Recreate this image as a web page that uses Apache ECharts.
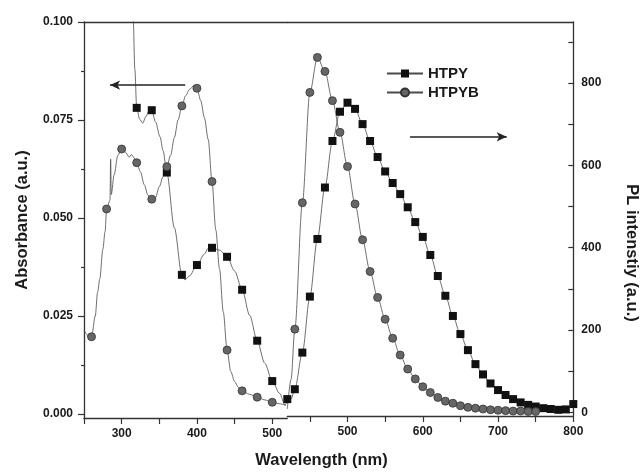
<!DOCTYPE html>
<html>
<head>
<meta charset="utf-8">
<script src="https://cdn.jsdelivr.net/npm/echarts@6/dist/echarts.min.js"></script>
<style>
html, body { margin: 0; padding: 0; background: #fff; }
#chart { width: 643px; height: 472px; }
</style>
</head>
<body>
<div id="chart"></div>
<script>
// absorbance (left axis), markers every 20 nm + extra points of the trace
const htpyAbsMarks = [[320, 0.0781], [340, 0.0775], [360, 0.0616], [380, 0.0355], [400, 0.0380], [420, 0.0424], [440, 0.0401], [460, 0.0317], [480, 0.0187], [500, 0.0084], [520, 0.0038]]
const htpyAbsTrace = [[313, 0.125], [315.5, 0.100], [317.5, 0.088], [324, 0.0752], [328, 0.0742], [332, 0.0758], [336, 0.0772], [345, 0.0745], [351, 0.0707], [355, 0.0672], [370, 0.0475], [384, 0.0342], [390, 0.0352], [410, 0.0408], [415, 0.0423], [430, 0.0418], [450, 0.0365], [470, 0.0252], [490, 0.0130], [510, 0.0052], [517, 0.0022]]
const htpybAbsMarks = [[260, 0.0197], [280, 0.0523], [300, 0.0676], [320, 0.0641], [340, 0.0548], [360, 0.0631], [380, 0.0786], [400, 0.0831], [420, 0.0593], [440, 0.0163], [460, 0.0059], [480, 0.0043], [500, 0.0030]]
const htpybAbsTrace = [[250, 0.0214], [253, 0.0205], [256, 0.0196], [265, 0.0250], [268, 0.0310], [271, 0.0345], [275, 0.0420], [278, 0.0465], [284.5, 0.0545], [285.4, 0.0650], [286.2, 0.0560], [290, 0.0610], [295, 0.0660], [305, 0.0668], [310, 0.0655], [313, 0.0662], [316, 0.0655], [325, 0.0618], [330, 0.0585], [335, 0.0558], [345, 0.0552], [350, 0.0580], [355, 0.0605], [365, 0.0660], [370, 0.0705], [375, 0.0750], [385, 0.0812], [390, 0.0828], [396, 0.0838], [405, 0.0800], [410, 0.0755], [415, 0.0700], [425, 0.0470], [430, 0.0370], [435, 0.0260], [445, 0.0108], [450, 0.0083], [455, 0.0068], [470, 0.0050], [490, 0.0036], [510, 0.0026], [518, 0.0022]]

// PL (right axis), markers every 10 nm
const plWave = [430, 440, 450, 460, 470, 480, 490, 500, 510, 520, 530, 540, 550, 560, 570, 580, 590, 600, 610, 620, 630, 640, 650, 660, 670, 680, 690, 700, 710, 720, 730, 740, 750, 760, 770, 780, 790, 800]
const htpyPL = [56, 145, 281, 421, 546, 659, 730, 752, 737, 700, 659, 620, 585, 557, 530, 498, 462, 426, 382, 331, 283, 234, 190, 151, 117, 92, 70, 54, 42, 32, 24, 18, 14, 10, 8, 6, 7, 20]
const htpybPL = [202, 509, 777, 862, 828, 757, 680, 597, 506, 419, 342, 279, 226, 180, 139, 105, 81, 62, 48, 36, 27, 22, 16, 12, 10, 8, 6, 5, 4, 3, 3, 2, 2]
const htpyPLTrace = [[420, 22], [425, 32]]
const htpybPLTrace = [[420, 8], [425, 80]]

const absLabels = [0, 0.025, 0.05, 0.075, 0.1]
const absMinor = [0.0125, 0.0375, 0.0625, 0.0875]
const plTicks = [0, 100, 200, 300, 400, 500, 600, 700, 800, 900]
const plLabels = [0, 200, 400, 600, 800]
const leftWaveTicks = [250, 300, 350, 400, 450, 500]
const leftWaveLabels = [300, 400, 500]
const rightWaveTicks = [450, 500, 550, 600, 650, 700, 750, 800]
const rightWaveLabels = [500, 600, 700, 800]

const FONT = '"Liberation Sans", Arial, sans-serif'
const AXIS = '#333'
const TEXT = '#1a1a1a'

const merge = (marks, trace) => marks.map(p => ({ value: p }))
    .concat(trace.map(p => ({ value: p, symbol: 'none' })))
    .sort((a, b) => a.value[0] - b.value[0])

const chart = echarts.init(document.getElementById('chart'))

const lineStyle = { color: '#4a4a4a', width: 0.8 }
const squareStyle = { color: '#111' }
const circleStyle = { color: '#666', borderColor: '#333', borderWidth: 0.8 }
const axisLine = { show: true, onZero: false, lineStyle: { color: AXIS, width: 1.3 } }
const titleFont = { color: TEXT, fontFamily: FONT, fontWeight: 'bold', fontSize: 16.5 }
const tickFont = { color: TEXT, fontFamily: FONT, fontWeight: 'bold', fontSize: 12 }

const xBottom = (grid, min, max, ticks, labels) => ({
    type: 'value', gridIndex: grid, position: 'bottom', min, max,
    axisLine,
    axisTick: { customValues: ticks, length: 6, lineStyle: { color: AXIS, width: 1.2 } },
    axisLabel: { customValues: labels, margin: 10, ...tickFont },
    splitLine: { show: false }
})
const xTop = grid => ({
    type: 'value', gridIndex: grid, position: 'top', min: 0, max: 1,
    axisLine,
    axisTick: { show: false }, axisLabel: { show: false }, splitLine: { show: false }
})

const option = {
    animation: false,
    backgroundColor: '#fff',
    title: {
        text: 'Wavelength (nm)', left: 'center', top: 452, padding: 0,
        textStyle: titleFont
    },
    legend: {
        orient: 'vertical', left: 381, top: 61, itemWidth: 36, itemHeight: 10, itemGap: 4,
        data: ['HTPY', 'HTPYB'],
        textStyle: { color: TEXT, fontFamily: FONT, fontWeight: 'bold', fontSize: 15 }
    },
    grid: [
        { left: 84, width: 203.3, top: 22, bottom: 54 },
        { left: 287.3, right: 69.7, top: 22, bottom: 56 }
    ],
    xAxis: [
        xBottom(0, 250, 520, leftWaveTicks, leftWaveLabels),
        xBottom(1, 420, 800, rightWaveTicks, rightWaveLabels),
        xTop(0),
        xTop(1)
    ],
    yAxis: [
        {
            type: 'value', gridIndex: 0, position: 'left', min: -0.00102, max: 0.1,
            name: 'Absorbance (a.u.)', nameLocation: 'middle', nameRotate: 90, nameGap: 53,
            nameTextStyle: titleFont,
            axisLine,
            axisTick: { customValues: absLabels, length: 6, lineStyle: { color: AXIS, width: 1.2 } },
            axisLabel: { customValues: absLabels, margin: 11, ...tickFont, formatter: v => Number(v).toFixed(3) },
            splitLine: { show: false }
        },
        {
            type: 'value', gridIndex: 1, position: 'right', min: -9, max: 948,
            name: 'PL intenstiy (a.u.)', nameLocation: 'middle', nameRotate: -90, nameGap: 50,
            nameTextStyle: { ...titleFont, padding: [0, 0, 0, 68] },
            axisLine,
            axisTick: { inside: true, customValues: plTicks, length: 5, lineStyle: { color: AXIS, width: 1.2 } },
            axisLabel: { customValues: plLabels, margin: 8, ...tickFont },
            splitLine: { show: false }
        },
        {
            // shorter minor ticks of the absorbance axis
            type: 'value', gridIndex: 0, position: 'left', min: -0.00102, max: 0.1,
            axisLine: { show: false, onZero: false },
            axisTick: { customValues: absMinor, length: 3, lineStyle: { color: AXIS, width: 1.2 } },
            axisLabel: { show: false },
            splitLine: { show: false }
        }
    ],
    series: [
        {
            name: 'HTPY', type: 'line', xAxisIndex: 0, yAxisIndex: 0,
            data: merge(htpyAbsMarks, htpyAbsTrace),
            symbol: 'rect', symbolSize: 8, smooth: 0.3, smoothMonotone: 'x',
            lineStyle, itemStyle: squareStyle
        },
        {
            name: 'HTPYB', type: 'line', xAxisIndex: 0, yAxisIndex: 0,
            data: merge(htpybAbsMarks, htpybAbsTrace),
            symbol: 'circle', symbolSize: 8, smooth: 0.3, smoothMonotone: 'x',
            lineStyle, itemStyle: circleStyle,
            markLine: {
                silent: true, symbol: ['arrow', 'none'], symbolSize: [7, 10],
                label: { show: false },
                lineStyle: { color: '#222', width: 1.6, type: 'solid' },
                data: [[{ coord: [284.6, 0.0839] }, { coord: [384.4, 0.0839] }]]
            }
        },
        {
            name: 'HTPY', type: 'line', xAxisIndex: 1, yAxisIndex: 1,
            data: merge(plWave.map((w, i) => [w, htpyPL[i]]), htpyPLTrace),
            symbol: 'rect', symbolSize: 8, smooth: 0.3, smoothMonotone: 'x',
            lineStyle, itemStyle: squareStyle,
            markLine: {
                silent: true, symbol: ['none', 'arrow'], symbolSize: [7, 10],
                label: { show: false },
                lineStyle: { color: '#222', width: 1.6, type: 'solid' },
                data: [[{ coord: [583, 669] }, { coord: [711.5, 669] }]]
            }
        },
        {
            name: 'HTPYB', type: 'line', xAxisIndex: 1, yAxisIndex: 1,
            data: merge(plWave.slice(0, htpybPL.length).map((w, i) => [w, htpybPL[i]]), htpybPLTrace),
            symbol: 'circle', symbolSize: 8, smooth: 0.3, smoothMonotone: 'x',
            lineStyle, itemStyle: circleStyle
        }
    ]
}

chart.setOption(option)
</script>
</body>
</html>
